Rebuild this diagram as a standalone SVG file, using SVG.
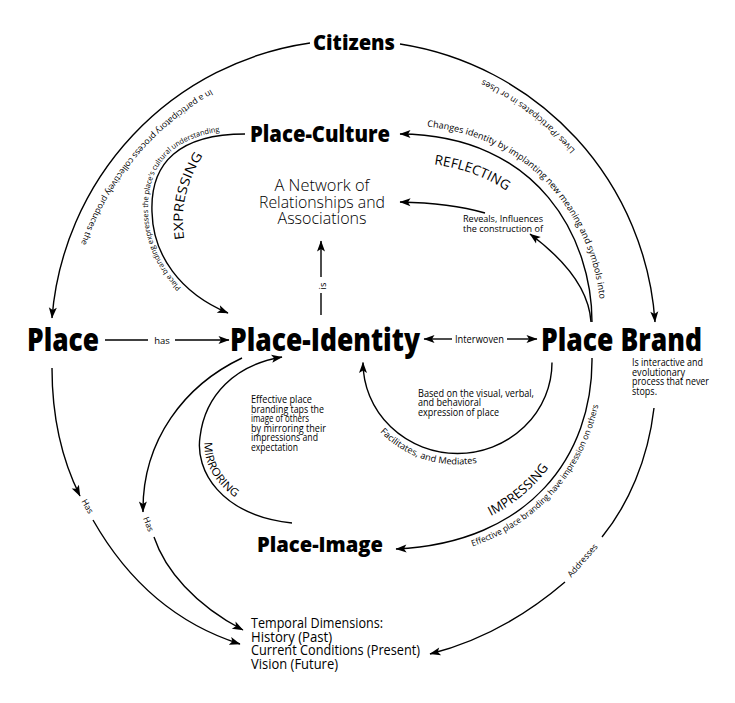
<svg xmlns="http://www.w3.org/2000/svg" width="735" height="703" viewBox="0 0 735 703">
<defs>
<style>
.t{font-family:"Open Sans","DejaVu Sans",sans-serif;fill:#000}
.b{font-weight:800}
.lt{font-weight:300}
.ln{fill:none;stroke:#000;stroke-width:1.4}
.m{marker-end:url(#ah)}
</style>
<marker id="ah" markerUnits="userSpaceOnUse" viewBox="0 0 11 8" markerWidth="11" markerHeight="8" refX="10.5" refY="4" orient="auto" overflow="visible"><path d="M0,0 L11,4 L0,8 L2.5,4 Z" fill="#000"/></marker>
<path id="tpL" d="M255.5,68.5 A291,291 0 0 0 68.4,291.5"/>
<path id="tpR" d="M594.2,174.5 A292,292 0 0 0 454.9,67.6"/>
<path id="tpExpS" d="M226,317 C177,297 149,256 148,212 C146,160 179,130 245,130"/>
<path id="tpExp" d="M186,248 Q174,195 208,148"/>
<path id="tpRefS" d="M400,125 C546,126 601,238 601,322"/>
<path id="tpRef" d="M400,162 C525,163 565,240 565,322"/>
<path id="tpImp" d="M395,539 C523,534 583,452 582,358"/>
<path id="tpImpS" d="M397,560 C536,555 604,458 603,358"/>
<path id="tpFac" d="M352,362.5 A105.5,102 0 0 0 563,362.5"/>
<path id="tpMir" d="M281,362 C238,370 210,398 205,437 C200,468 225,508 291,518"/>
</defs>
<rect width="735" height="703" fill="#fff"/>

<g id="connectors">
  <path class="ln m" d="M310,43 A302,302 0 0 0 52,318"/>
  <path class="ln m" d="M400,44 A302,302 0 0 1 655,322"/>
  <path class="ln m" d="M245,134 C180,134 150,162 152,212 C153,255 180,293 228,313"/>
  <path class="ln m" d="M592,322 C592,240 540,135 400,134"/>
  <path class="ln m" d="M591,322 C589,290 565,260 530,234"/>
  <path class="ln m" d="M485,213 Q450,203 400,202"/>
  <path class="ln m" d="M592,358 C593,455 530,543 396,549"/>
  <path class="ln m" d="M552,362.5 A94.5,91 0 0 1 363,362.5"/>
  <path class="ln m" d="M292,523 C220,515 195,470 200,437 C205,395 235,365 282,357"/>
  <path class="ln m" d="M52,368 C52,420 62,460 80,496"/>
  <path class="ln m" d="M93,520 C130,585 180,625 240,644"/>
  <path class="ln m" d="M242,358 C185,385 142,440 143,512"/>
  <path class="ln m" d="M154,537 C165,570 195,605 243,630"/>
  <path class="ln" d="M654,408 C648,460 628,505 602,537"/>
  <path class="ln m" d="M565,582 C530,612 485,640 430,654"/>
  <path class="ln" d="M105,340 H148"/>
  <path class="ln m" d="M175,340 H229"/>
  <path class="ln m" d="M452,339 H424"/>
  <path class="ln m" d="M507,339 H537"/>
  <path class="ln" d="M321,315 V293"/>
  <path class="ln m" d="M321,277 V241"/>

  <text class="t" font-size="8.5"><textPath href="#tpL" startOffset="50%" text-anchor="middle" textLength="206" lengthAdjust="spacingAndGlyphs">In a participatory process collectively produces the</textPath></text>
  <text class="t" font-size="8.5"><textPath href="#tpR" startOffset="50%" text-anchor="middle" textLength="117" lengthAdjust="spacingAndGlyphs">Lives /Participates in or Uses</textPath></text>
  <text class="t" font-size="7.5"><textPath href="#tpExpS" startOffset="55%" text-anchor="middle" textLength="205" lengthAdjust="spacingAndGlyphs">Place branding expresses the place's cultural understanding</textPath></text>
  <text class="t" font-size="13"><textPath href="#tpExp" startOffset="50%" text-anchor="middle" textLength="88" lengthAdjust="spacingAndGlyphs">EXPRESSING</textPath></text>
  <text class="t" font-size="9"><textPath href="#tpRefS" startOffset="27" textLength="265" lengthAdjust="spacingAndGlyphs">Changes identity by implanting new meaning and symbols into</textPath></text>
  <text class="t" font-size="13.5"><textPath href="#tpRef" startOffset="34" textLength="78" lengthAdjust="spacingAndGlyphs">REFLECTING</textPath></text>
  <text class="t" font-size="13"><textPath href="#tpImp" startOffset="47%" text-anchor="middle" textLength="76" lengthAdjust="spacingAndGlyphs">IMPRESSING</textPath></text>
  <text class="t" font-size="8.5"><textPath href="#tpImpS" startOffset="54.6%" text-anchor="middle" textLength="198" lengthAdjust="spacingAndGlyphs">Effective place branding have impression on others</textPath></text>
  <text class="t" font-size="9"><textPath href="#tpFac" startOffset="39.8%" text-anchor="middle" textLength="106" lengthAdjust="spacingAndGlyphs">Facilitates, and Mediates</textPath></text>
  <text class="t" font-size="11"><textPath href="#tpMir" startOffset="120" textLength="66" lengthAdjust="spacingAndGlyphs">MIRRORING</textPath></text>

  <text class="t" font-size="9.5" x="503" y="221.5" text-anchor="middle" textLength="80" lengthAdjust="spacingAndGlyphs">Reveals, Influences</text>
  <text class="t" font-size="9.5" x="503" y="231.5" text-anchor="middle" textLength="80" lengthAdjust="spacingAndGlyphs">the construction of</text>
  <text class="t" font-size="9.5" x="162" y="343.5" text-anchor="middle">has</text>
  <text class="t" font-size="10" x="479.5" y="342.8" text-anchor="middle" textLength="49" lengthAdjust="spacingAndGlyphs">Interwoven</text>
  <text class="t" font-size="9.5" text-anchor="middle" dominant-baseline="central" transform="translate(322,286) rotate(-90)">is</text>
  <text class="t" font-size="8.5" text-anchor="middle" dominant-baseline="central" transform="translate(88,506) rotate(60)">Has</text>
  <text class="t" font-size="8.5" text-anchor="middle" dominant-baseline="central" transform="translate(149,524) rotate(68)">Has</text>
  <text class="t" font-size="8.5" text-anchor="middle" dominant-baseline="central" transform="translate(582,560) rotate(-49)">Addresses</text>
</g>

<g id="citizens"><text class="t b" font-size="21" x="313" y="50" textLength="82" lengthAdjust="spacingAndGlyphs">Citizens</text></g>
<g id="place-culture"><text class="t b" font-size="22" x="250" y="142" textLength="140" lengthAdjust="spacingAndGlyphs">Place-Culture</text></g>
<g id="network">
  <text class="t lt" font-size="15.5" x="322" y="191" text-anchor="middle" textLength="95" lengthAdjust="spacingAndGlyphs">A Network of</text>
  <text class="t lt" font-size="15.5" x="322" y="207.5" text-anchor="middle" textLength="126" lengthAdjust="spacingAndGlyphs">Relationships and</text>
  <text class="t lt" font-size="15.5" x="322" y="224" text-anchor="middle" textLength="89" lengthAdjust="spacingAndGlyphs">Associations</text>
</g>
<g id="place"><text class="t b" font-size="31" x="27" y="351" textLength="72" lengthAdjust="spacingAndGlyphs">Place</text></g>
<g id="place-identity"><text class="t b" font-size="31" x="230" y="351" textLength="190" lengthAdjust="spacingAndGlyphs">Place-Identity</text></g>
<g id="place-brand">
  <text class="t b" font-size="31" x="541" y="351" textLength="161" lengthAdjust="spacingAndGlyphs">Place Brand</text>
  <text class="t" font-size="10" x="632" y="366" textLength="71" lengthAdjust="spacingAndGlyphs">Is interactive and</text>
  <text class="t" font-size="10" x="632" y="375.5" textLength="53" lengthAdjust="spacingAndGlyphs">evolutionary</text>
  <text class="t" font-size="10" x="632" y="385" textLength="77" lengthAdjust="spacingAndGlyphs">process that never</text>
  <text class="t" font-size="10" x="632" y="395" textLength="25" lengthAdjust="spacingAndGlyphs">stops.</text>
</g>
<g id="mirroring-note">
  <text class="t" font-size="10" x="251" y="403" textLength="61" lengthAdjust="spacingAndGlyphs">Effective place</text>
  <text class="t" font-size="10" x="251" y="412.5" textLength="73" lengthAdjust="spacingAndGlyphs">branding taps the</text>
  <text class="t" font-size="10" x="251" y="422" textLength="58" lengthAdjust="spacingAndGlyphs">image of others</text>
  <text class="t" font-size="10" x="251" y="431.5" textLength="75" lengthAdjust="spacingAndGlyphs">by mirroring their</text>
  <text class="t" font-size="10" x="251" y="441" textLength="67" lengthAdjust="spacingAndGlyphs">impressions and</text>
  <text class="t" font-size="10" x="251" y="450.5" textLength="47" lengthAdjust="spacingAndGlyphs">expectation</text>
</g>
<g id="expression-note">
  <text class="t" font-size="10" x="418" y="396.5" textLength="116" lengthAdjust="spacingAndGlyphs">Based on the visual, verbal,</text>
  <text class="t" font-size="10" x="418" y="406" textLength="63" lengthAdjust="spacingAndGlyphs">and behavioral</text>
  <text class="t" font-size="10" x="418" y="415.5" textLength="81" lengthAdjust="spacingAndGlyphs">expression of place</text>
</g>
<g id="place-image"><text class="t b" font-size="21" x="257" y="552" textLength="126" lengthAdjust="spacingAndGlyphs">Place-Image</text></g>
<g id="temporal">
  <text class="t" font-size="14" x="251" y="628" textLength="132" lengthAdjust="spacingAndGlyphs">Temporal Dimensions:</text>
  <text class="t" font-size="14" x="251" y="641.7" textLength="81" lengthAdjust="spacingAndGlyphs">History (Past)</text>
  <text class="t" font-size="14" x="251" y="655.3" textLength="169" lengthAdjust="spacingAndGlyphs">Current Conditions (Present)</text>
  <text class="t" font-size="14" x="251" y="669" textLength="87" lengthAdjust="spacingAndGlyphs">Vision (Future)</text>
</g>
</svg>
